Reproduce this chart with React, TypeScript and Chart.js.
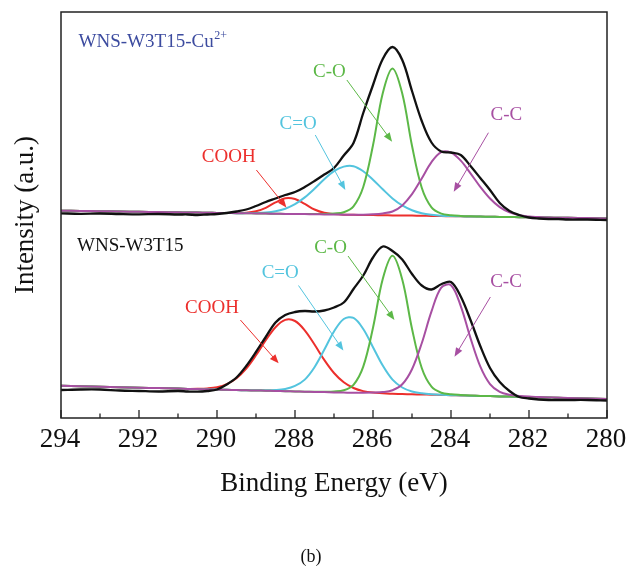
import React, { useEffect, useRef } from 'react';
import { Chart, registerables } from 'chart.js';

Chart.register(...registerables);

// ---------- data (binding energy in eV, intensity in a.u.) ----------
const ENERGY = [294, 293.5, 293, 292.5, 292, 291.5, 291, 290.75, 290.5, 290.25, 290, 289.75, 289.5, 289.25, 289, 288.75, 288.5, 288.25, 288, 287.75, 287.5, 287.25, 287, 286.75, 286.5, 286.25, 286, 285.75, 285.5, 285.25, 285, 284.75, 284.5, 284.25, 284, 283.75, 283.5, 283.25, 283, 282.75, 282.5, 282.25, 282, 281.75, 281.5, 281.25, 281, 280.5, 280];

// WNS-W3T15-Cu2+ (upper spectrum)
const TOP_RAW = [204.7, 204.2, 204.5, 204.0, 203.7, 204.0, 203.5, 203.5, 203.0, 203.5, 204.0, 205.0, 206.5, 208.5, 212.0, 216.0, 219.5, 223.0, 226.0, 231.0, 237.0, 243.5, 250.0, 262.5, 275.0, 305.0, 333.0, 359.0, 371.0, 358.0, 327.0, 297.0, 275.5, 266.5, 265.5, 263.0, 252.0, 240.0, 228.0, 215.0, 207.0, 203.0, 200.5, 199.5, 199.0, 199.0, 198.5, 198.5, 198.0];
const TOP_COOH = [207.3, 207.0, 206.8, 206.5, 206.2, 205.9, 205.7, 205.5, 205.4, 205.2, 205.1, 205.0, 204.9, 205.2, 206.7, 210.2, 215.6, 219.7, 219.0, 214.1, 208.5, 205.2, 203.9, 203.3, 203.2, 203.0, 202.9, 202.8, 202.6, 202.5, 202.4, 202.2, 202.1, 201.9, 201.8, 201.7, 201.5, 201.4, 201.3, 201.1, 201.0, 200.8, 200.7, 200.6, 200.4, 200.3, 200.2, 199.9, 199.6];
const TOP_CO2 = [207.3, 207.0, 206.8, 206.5, 206.2, 205.9, 205.7, 205.5, 205.4, 205.2, 205.1, 205.0, 204.8, 204.9, 205.0, 205.5, 206.8, 209.3, 213.8, 220.6, 229.2, 238.7, 246.9, 251.4, 251.8, 246.7, 238.3, 228.7, 219.6, 212.6, 207.8, 204.8, 203.2, 202.3, 202.0, 201.7, 201.5, 201.4, 201.3, 201.1, 201.0, 200.8, 200.7, 200.6, 200.4, 200.3, 200.2, 199.9, 199.6];
const TOP_CO = [207.3, 207.0, 206.8, 206.5, 206.2, 205.9, 205.7, 205.5, 205.4, 205.2, 205.1, 205.0, 204.8, 204.7, 204.6, 204.4, 204.3, 204.1, 204.0, 203.9, 203.9, 204.0, 204.5, 205.8, 211.7, 231.0, 272.7, 324.8, 349.6, 324.5, 272.2, 230.2, 210.6, 204.4, 202.8, 202.1, 201.7, 201.4, 201.3, 201.1, 201.0, 200.8, 200.7, 200.6, 200.4, 200.3, 200.2, 199.9, 199.6];
const TOP_CC = [207.3, 207.0, 206.8, 206.5, 206.2, 205.9, 205.7, 205.5, 205.4, 205.2, 205.1, 205.0, 204.8, 204.7, 204.6, 204.4, 204.3, 204.1, 204.0, 203.9, 203.7, 203.6, 203.5, 203.3, 203.2, 203.3, 203.7, 204.6, 206.5, 212.6, 223.8, 239.6, 255.9, 265.9, 265.4, 257.4, 244.7, 231.2, 219.5, 210.9, 205.7, 202.8, 201.5, 200.9, 200.4, 200.3, 200.2, 199.9, 199.6];

// WNS-W3T15 (lower spectrum)
const BOT_RAW = [28.0, 28.5, 28.5, 27.5, 27.0, 26.5, 27.0, 26.5, 26.3, 27.0, 28.5, 33.5, 40.5, 52.0, 66.0, 81.0, 95.5, 103.0, 106.0, 107.0, 106.5, 107.5, 110.5, 115.5, 129.0, 142.5, 160.5, 171.5, 167.0, 158.5, 144.0, 132.5, 128.5, 133.8, 136.0, 121.5, 98.0, 72.0, 50.0, 36.0, 27.0, 21.0, 19.5, 18.5, 18.0, 18.0, 18.0, 18.0, 17.5];
const BOT_COOH = [32.2, 31.7, 31.3, 30.8, 30.3, 29.9, 29.4, 29.1, 29.2, 29.6, 30.8, 33.9, 39.8, 49.4, 62.7, 77.7, 90.8, 98.1, 97.0, 87.7, 73.5, 58.1, 45.0, 35.7, 30.0, 26.9, 25.4, 24.8, 24.2, 24.0, 23.7, 23.5, 23.3, 23.0, 22.8, 22.6, 22.3, 22.1, 21.9, 21.6, 21.4, 21.2, 20.9, 20.7, 20.5, 20.2, 20.0, 19.5, 19.0];
const BOT_CO2 = [32.2, 31.7, 31.3, 30.8, 30.3, 29.9, 29.4, 29.1, 28.9, 28.7, 28.4, 28.2, 28.0, 27.7, 27.7, 27.7, 28.0, 29.1, 32.1, 38.4, 50.8, 68.2, 86.5, 99.0, 100.1, 89.0, 70.8, 52.4, 38.3, 30.5, 26.5, 24.8, 23.8, 23.2, 22.8, 22.6, 22.3, 22.1, 21.9, 21.6, 21.4, 21.2, 20.9, 20.7, 20.5, 20.2, 20.0, 19.5, 19.0];
const BOT_CO = [32.2, 31.7, 31.3, 30.8, 30.3, 29.9, 29.4, 29.1, 28.9, 28.7, 28.4, 28.2, 28.0, 27.7, 27.5, 27.3, 27.0, 26.8, 26.6, 26.3, 26.3, 26.3, 26.5, 27.7, 33.2, 51.4, 90.3, 139.0, 162.2, 138.5, 89.3, 50.0, 31.3, 25.3, 23.7, 23.0, 22.5, 22.1, 21.9, 21.6, 21.4, 21.2, 20.9, 20.7, 20.5, 20.2, 20.0, 19.5, 19.0];
const BOT_CC = [32.2, 31.7, 31.3, 30.8, 30.3, 29.9, 29.4, 29.1, 28.9, 28.7, 28.4, 28.2, 28.0, 27.7, 27.5, 27.3, 27.0, 26.8, 26.6, 26.3, 26.1, 25.9, 25.6, 25.4, 25.2, 25.2, 25.4, 25.9, 27.8, 33.7, 48.8, 74.8, 106.6, 130.4, 132.8, 111.9, 79.9, 51.6, 33.9, 26.1, 23.2, 22.1, 21.4, 21.0, 20.6, 20.3, 20.1, 19.6, 19.1];

const X_MIN = 280;
const X_MAX = 294;
const X_TICK_LABELS = [294, 292, 290, 288, 286, 284, 282, 280];
const MINOR_TICKS = [281, 283, 285, 287, 289, 291, 293];
const Y_MIN = 0;
const Y_MAX = 406;

const X_TITLE = 'Binding Energy (eV)';
const Y_TITLE = 'Intensity (a.u.)';
const CAPTION = '(b)';

// ---------- styles ----------
const SERIF = "'Liberation Serif', 'Times New Roman', serif";
const C_BLACK = '#111111';
const C_RED = '#ec2f2c';
const C_CYAN = '#53c4de';
const C_GREEN = '#5cb847';
const C_PURPLE = '#a74fa2';
const C_BLUE = '#3c4b9f';

// annotations in data coordinates: [text, color, textE, textI, tailE, tailI, tipE, tipI]
type Note = [string, string, number, number, number, number, number, number];
const NOTES: Note[] = [
  ['COOH', C_RED, 289.70, 261.3, 288.99, 248.0, 288.22, 210.5],
  ['C=O', C_CYAN, 287.92, 293.5, 287.48, 283.0, 286.71, 228.0],
  ['C-O', C_GREEN, 287.12, 346.3, 286.67, 338.0, 285.51, 276.3],
  ['C-C', C_PURPLE, 282.58, 302.5, 283.04, 285.3, 283.93, 226.3],
  ['COOH', C_RED, 290.13, 109.7, 289.40, 98.0, 288.42, 54.7],
  ['C=O', C_CYAN, 288.38, 145.3, 287.91, 132.5, 286.76, 67.5],
  ['C-O', C_GREEN, 287.09, 169.7, 286.64, 162.0, 285.45, 98.0],
  ['C-C', C_PURPLE, 282.59, 135.5, 282.99, 121.0, 283.91, 61.3],
];

// sample labels: [main, superscript, color, E, I]
type Label = [string, string, string, number, number];
const SAMPLE_LABELS: Label[] = [
  ['WNS-W3T15-Cu', '2+', C_BLUE, 293.55, 376.3],
  ['WNS-W3T15', '', C_BLACK, 293.59, 172.2],
];

const toPts = (ys: number[]) => ENERGY.map((e, i) => ({ x: e, y: ys[i] }));

const decorPlugin = {
  id: 'decor',
  afterDatasetsDraw(chart: any) {
    const { ctx, chartArea: ca, scales } = chart;
    const xs = scales.x;
    const ys = scales.y;
    ctx.save();

    // frame
    ctx.strokeStyle = '#222222';
    ctx.lineWidth = 1.5;
    ctx.strokeRect(ca.left, ca.top, ca.right - ca.left, ca.bottom - ca.top);

    // inward ticks + tick labels on the bottom axis
    ctx.lineWidth = 1.3;
    const tick = (e: number, len: number) => {
      const px = xs.getPixelForValue(e);
      ctx.beginPath();
      ctx.moveTo(px, ca.bottom);
      ctx.lineTo(px, ca.bottom - len);
      ctx.stroke();
    };
    MINOR_TICKS.forEach((e) => tick(e, 4.5));
    X_TICK_LABELS.forEach((e) => tick(e, 8));
    ctx.fillStyle = C_BLACK;
    ctx.font = `27px ${SERIF}`;
    ctx.textAlign = 'center';
    ctx.textBaseline = 'middle';
    X_TICK_LABELS.forEach((e) => {
      ctx.fillText(String(e), xs.getPixelForValue(e) - 1, ca.bottom + 21.5);
    });

    // annotations with arrows
    ctx.font = `19px ${SERIF}`;
    NOTES.forEach(([text, color, te, ti, ae, ai, be, bi]) => {
      const tx = xs.getPixelForValue(te);
      const ty = ys.getPixelForValue(ti);
      const x0 = xs.getPixelForValue(ae);
      const y0 = ys.getPixelForValue(ai);
      const x1 = xs.getPixelForValue(be);
      const y1 = ys.getPixelForValue(bi);
      ctx.fillStyle = color;
      ctx.strokeStyle = color;
      ctx.fillText(text, tx, ty);
      const ang = Math.atan2(y1 - y0, x1 - x0);
      const hl = 9;
      const hw = 3.6;
      ctx.lineWidth = 1;
      ctx.beginPath();
      ctx.moveTo(x0, y0);
      ctx.lineTo(x1 - Math.cos(ang) * hl * 0.8, y1 - Math.sin(ang) * hl * 0.8);
      ctx.stroke();
      ctx.beginPath();
      ctx.moveTo(x1, y1);
      ctx.lineTo(x1 - Math.cos(ang) * hl - Math.sin(ang) * hw, y1 - Math.sin(ang) * hl + Math.cos(ang) * hw);
      ctx.lineTo(x1 - Math.cos(ang) * hl + Math.sin(ang) * hw, y1 - Math.sin(ang) * hl - Math.cos(ang) * hw);
      ctx.closePath();
      ctx.fill();
    });

    // sample labels
    ctx.textAlign = 'left';
    SAMPLE_LABELS.forEach(([main, sup, color, e, i]) => {
      const px = xs.getPixelForValue(e);
      const py = ys.getPixelForValue(i);
      ctx.fillStyle = color;
      ctx.font = `19px ${SERIF}`;
      ctx.fillText(main, px, py);
      if (sup) {
        const w = ctx.measureText(main).width;
        ctx.font = `12px ${SERIF}`;
        ctx.fillText(sup, px + w + 0.5, py - 6);
      }
    });

    // figure caption
    ctx.fillStyle = C_BLACK;
    ctx.font = `18px ${SERIF}`;
    ctx.textAlign = 'center';
    ctx.fillText(CAPTION, 311, 557);

    ctx.restore();
  },
};

export default function App() {
  const ref = useRef<HTMLCanvasElement | null>(null);

  useEffect(() => {
    if (!ref.current) return;
    const line = (label: string, ys: number[], color: string, width: number, order: number) => ({
      label,
      data: toPts(ys),
      borderColor: color,
      backgroundColor: color,
      borderWidth: width,
      pointRadius: 0,
      fill: false,
      tension: 0.35,
      order,
    });
    const chart = new Chart(ref.current, {
      type: 'line',
      data: {
        datasets: [
          line('WNS-W3T15-Cu2+ raw', TOP_RAW, C_BLACK, 2.3, 0),
          line('WNS-W3T15-Cu2+ C-C', TOP_CC, C_PURPLE, 2, 1),
          line('WNS-W3T15-Cu2+ C-O', TOP_CO, C_GREEN, 2, 2),
          line('WNS-W3T15-Cu2+ C=O', TOP_CO2, C_CYAN, 2, 3),
          line('WNS-W3T15-Cu2+ COOH', TOP_COOH, C_RED, 2, 4),
          line('WNS-W3T15 raw', BOT_RAW, C_BLACK, 2.3, 0),
          line('WNS-W3T15 C-C', BOT_CC, C_PURPLE, 2, 1),
          line('WNS-W3T15 C-O', BOT_CO, C_GREEN, 2, 2),
          line('WNS-W3T15 C=O', BOT_CO2, C_CYAN, 2, 3),
          line('WNS-W3T15 COOH', BOT_COOH, C_RED, 2, 4),
        ],
      },
      options: {
        animation: false,
        responsive: false,
        devicePixelRatio: 1,
        layout: { padding: { left: 0, right: 22, top: 12, bottom: 0 } },
        plugins: { legend: { display: false }, tooltip: { enabled: false } },
        scales: {
          x: {
            type: 'linear',
            reverse: true,
            min: X_MIN,
            max: X_MAX,
            afterFit: (s: any) => {
              s.height = 150;
            },
            grid: { display: false, drawTicks: false, tickLength: 0 },
            border: { display: false },
            ticks: { display: false },
            title: {
              display: true,
              text: X_TITLE,
              color: C_BLACK,
              font: { family: SERIF, size: 27 },
              padding: { top: 0, bottom: 68 },
            },
          },
          y: {
            type: 'linear',
            min: Y_MIN,
            max: Y_MAX,
            afterFit: (s: any) => {
              s.width = 61;
            },
            grid: { display: false, drawTicks: false },
            border: { display: false },
            ticks: { display: false },
            title: {
              display: true,
              text: Y_TITLE,
              color: C_BLACK,
              font: { family: SERIF, size: 27 },
              padding: { top: 10, bottom: 0 },
            },
          },
        },
      },
      plugins: [decorPlugin],
    } as any);
    return () => chart.destroy();
  }, []);

  return (
    <div style={{ position: 'fixed', left: 0, top: 0, width: 629, height: 568, background: '#ffffff' }}>
      <canvas ref={ref} width={629} height={568} style={{ display: 'block', width: 629, height: 568 }} />
    </div>
  );
}
